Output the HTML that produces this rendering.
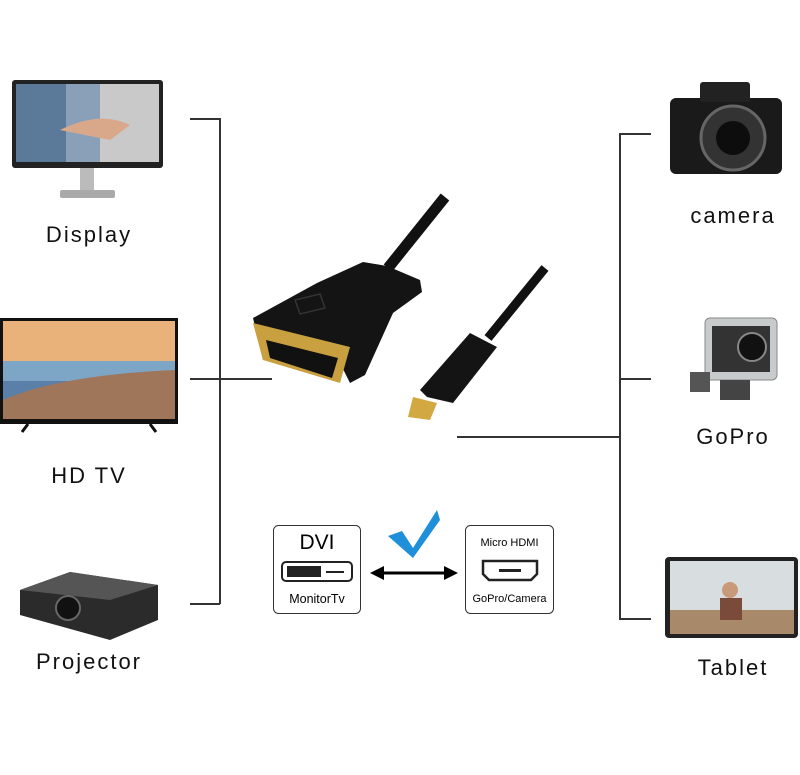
<!DOCTYPE html>
<html><head><style>
body{margin:0;width:800px;height:775px;background:#fff;position:relative;overflow:hidden;font-family:"Liberation Sans",sans-serif}
.a{position:absolute}
.lbl{position:absolute;font-size:22px;letter-spacing:2px;color:#111;transform:translateX(-50%);white-space:nowrap}
.ln{position:absolute;background:#333}
</style></head><body>
<div class="ln" style="left:219px;top:118px;width:1.5px;height:486px"></div>
<div class="ln" style="left:190px;top:118px;width:30px;height:1.5px"></div>
<div class="ln" style="left:190px;top:378px;width:82px;height:1.5px"></div>
<div class="ln" style="left:190px;top:603px;width:30px;height:1.5px"></div>
<div class="ln" style="left:619px;top:133px;width:1.5px;height:486px"></div>
<div class="ln" style="left:619px;top:133px;width:32px;height:1.5px"></div>
<div class="ln" style="left:619px;top:378px;width:32px;height:1.5px"></div>
<div class="ln" style="left:619px;top:618px;width:32px;height:1.5px"></div>
<div class="ln" style="left:457px;top:436px;width:163px;height:1.5px"></div>

<svg class="a" style="left:0;top:0" width="800" height="775">
 <rect x="12" y="80" width="151" height="88" rx="3" fill="#222"/>
 <rect x="16" y="84" width="143" height="78" fill="#8aa0b8"/>
 <rect x="16" y="84" width="50" height="78" fill="#5b7a9a"/>
 <rect x="100" y="84" width="59" height="78" fill="#c9c9c9"/>
 <path d="M60 130 Q100 110 130 125 L110 140 Z" fill="#d9a88a"/>
 <rect x="80" y="168" width="14" height="22" fill="#bbb"/>
 <rect x="60" y="190" width="55" height="8" rx="2" fill="#aaa"/>
 <rect x="0" y="318" width="178" height="106" fill="#111"/>
 <rect x="3" y="321" width="172" height="98" fill="#5a7fa8"/>
 <rect x="3" y="321" width="172" height="40" fill="#e9b27a"/>
 <rect x="3" y="361" width="172" height="20" fill="#7da6c6"/>
 <path d="M3 419 L3 400 Q60 375 175 370 L175 419Z" fill="#a0765a"/>
 <path d="M28 424 l-6 8 M150 424 l6 8" stroke="#111" stroke-width="3"/>
 <path d="M20 590 L70 572 L158 585 L158 620 L110 640 L20 615Z" fill="#2b2b2b"/>
 <path d="M20 590 L70 572 L158 585 L110 600Z" fill="#555"/>
 <circle cx="68" cy="608" r="12" fill="#111" stroke="#666" stroke-width="2"/>
 <rect x="670" y="98" width="112" height="76" rx="6" fill="#1a1a1a"/>
 <rect x="700" y="82" width="50" height="20" rx="3" fill="#222"/>
 <circle cx="733" cy="138" r="32" fill="#333" stroke="#666" stroke-width="3"/>
 <circle cx="733" cy="138" r="17" fill="#0d0d0d"/>
 <rect x="705" y="318" width="72" height="62" rx="5" fill="#c8cbcc" stroke="#888"/>
 <rect x="712" y="326" width="58" height="46" fill="#333"/>
 <circle cx="752" cy="347" r="14" fill="#111" stroke="#888" stroke-width="2"/>
 <rect x="690" y="372" width="20" height="20" fill="#555"/>
 <rect x="720" y="380" width="30" height="20" fill="#444"/>
 <rect x="665" y="557" width="133" height="81" rx="4" fill="#222"/>
 <rect x="670" y="561" width="124" height="73" fill="#d8dde0"/>
 <rect x="670" y="610" width="124" height="24" fill="#a88a6a"/>
 <circle cx="730" cy="590" r="8" fill="#c99a7a"/>
 <rect x="720" y="598" width="22" height="22" fill="#7a4a3a"/>
 <!-- Cables -->
 <path d="M388 268 L445 197" stroke="#111" stroke-width="11" fill="none"/>
 <path d="M488 338 L545 268" stroke="#111" stroke-width="9" fill="none"/>
 <!-- DVI connector -->
 <path d="M253 318 L317 283 L363 262 L387 266 L420 280 L422 292 L393 313 L365 375 L350 383 L340 363 L263 360 Z" fill="#141414"/>
 <path d="M253 323 L350 347 L340 383 L263 360 Z" fill="#c9a040"/>
 <path d="M266 340 L338 358 L332 378 L270 358 Z" fill="#111"/>
 <path d="M295 300 L320 294 L325 308 L300 314Z" fill="none" stroke="#333" stroke-width="1.5"/>
 <!-- Micro HDMI -->
 <path d="M470 333 L497 347 L453 403 L427 397 L420 390 Z" fill="#141414"/>
 <path d="M413 397 L437 403 L430 420 L408 417 Z" fill="#d2a840"/>
 <line x1="380" y1="573" x2="448" y2="573" stroke="#000" stroke-width="3"/>
 <path d="M370 573 l14 -7 v14 Z M458 573 l-14 -7 v14 Z" fill="#000"/>
 <path d="M388 536 L402 531 L413 548 L437 510 L440 520 L413 558 Z" fill="#1e8fd8"/>
 <rect x="273.5" y="525.5" width="87" height="88" rx="5" fill="#fff" stroke="#333"/>
 <rect x="282" y="562" width="70" height="19" rx="4" fill="#fff" stroke="#222" stroke-width="2"/>
 <rect x="287" y="566" width="34" height="11" fill="#222"/>
 <line x1="326" y1="572" x2="344" y2="572" stroke="#222" stroke-width="2"/>
 <rect x="465.5" y="525.5" width="88" height="88" rx="5" fill="#fff" stroke="#333"/>
 <path d="M483 561 H537 V574 L531 580 H489 L483 574 Z" fill="#fff" stroke="#222" stroke-width="2.5"/>
 <rect x="499" y="569" width="22" height="3" fill="#222"/>
</svg>
<div class="a" style="left:273px;top:531px;width:88px;text-align:center;font-size:21px">DVI</div>
<div class="a" style="left:273px;top:592px;width:88px;text-align:center;font-size:12.5px">MonitorTv</div>
<div class="a" style="left:465px;top:537px;width:89px;text-align:center;font-size:11px">Micro HDMI</div>
<div class="a" style="left:465px;top:593px;width:89px;text-align:center;font-size:11px">GoPro/Camera</div>

<div class="lbl" style="left:89px;top:222px">Display</div>
<div class="lbl" style="left:89px;top:463px">HD TV</div>
<div class="lbl" style="left:89px;top:649px">Projector</div>
<div class="lbl" style="left:733px;top:203px">camera</div>
<div class="lbl" style="left:733px;top:424px">GoPro</div>
<div class="lbl" style="left:733px;top:655px">Tablet</div>
</body></html>
